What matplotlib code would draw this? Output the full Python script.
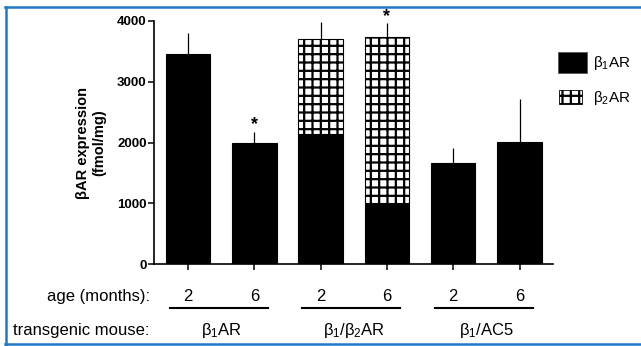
import matplotlib
matplotlib.use('Agg')
import matplotlib.pyplot as plt
from matplotlib.patches import Patch, Rectangle
from matplotlib.lines import Line2D
from matplotlib.legend_handler import HandlerPatch
import numpy as np

plt.rcParams['font.family'] = ['Liberation Sans', 'DejaVu Sans']
plt.rcParams['mathtext.default'] = 'regular'
plt.rcParams['hatch.linewidth'] = 1.6

# donnees
ages = ['2', '6', '2', '6', '2', '6']
groups = ['β$_1$AR', 'β$_1$/β$_2$AR', 'β$_1$/AC5']
b1 = [3448, 1987, 2140, 1002, 1658, 2003]
b2 = [0, 0, 1555, 2725, 0, 0]
err = [345, 190, 289, 233, 257, 716]
stars = [False, True, False, True, False, False]

x = np.arange(len(b1))
total = np.array(b1) + np.array(b2)

fig = plt.figure(figsize=(6.41, 3.46), dpi=100)
ax = fig.add_axes([0.2407, 0.2361, 0.6225, 0.7040])

ax.bar(x, b1, width=0.67, color='black', edgecolor='black', linewidth=0.8)
idx = [i for i in range(len(b2)) if b2[i] > 0]
ax.bar(x[idx], [b2[i] for i in idx], bottom=[b1[i] for i in idx], width=0.67,
       color='white', edgecolor='black', hatch='++', linewidth=0.8)
ax.errorbar(x, total, yerr=[np.zeros(len(err)), err], fmt='none', ecolor='black',
            elinewidth=0.9, capsize=0)
for i in range(len(x)):
    if stars[i]:
        ax.text(x[i], total[i] + err[i] - 30, '*', ha='center', va='bottom',
                fontsize=13, fontweight='bold', clip_on=False)

ax.set_xlim(-0.51, 5.51)
ax.set_ylim(0, 4000)
ax.set_yticks([0, 1000, 2000, 3000, 4000])
ax.set_yticklabels(['0', '1000', '2000', '3000', '4000'], fontweight='bold', fontsize=9.5)
ax.set_xticks(x, [''] * len(x))
ax.tick_params(axis='both', direction='out', length=4.5, width=1.1, pad=1)
for s in ['top', 'right']:
    ax.spines[s].set_visible(False)
for s in ['left', 'bottom']:
    ax.spines[s].set_linewidth(1.2)

ax.set_ylabel('βAR expression\n(fmol/mg)', fontweight='bold', fontsize=10.5, linespacing=1.15)
ax.yaxis.set_label_coords(-0.121, 0.5)

# textes sous l'axe
tr = ax.get_xaxis_transform()
for i in range(len(x)):
    ax.text(x[i], -0.1507, ages[i], ha='center', va='baseline', fontsize=12,
            transform=tr, clip_on=False)
for g in range(len(groups)):
    ax.plot([2 * g - 0.28, 2 * g + 1.2], [-0.1806, -0.1806], color='black', lw=1.5,
            transform=tr, clip_on=False)
    ax.text(2 * g + 0.5, -0.290, groups[g], ha='center', va='baseline', fontsize=12,
            transform=tr, clip_on=False)
ax.text(-0.0108, -0.1507, 'age (months):', ha='right', va='baseline', fontsize=12,
        transform=ax.transAxes, clip_on=False)
ax.text(-0.013, -0.290, 'transgenic mouse:', ha='right', va='baseline', fontsize=12,
        transform=ax.transAxes, clip_on=False)


# legende avec des carres de tailles differentes
def small_box(legend, orig_handle, xdescent, ydescent, width, height, fontsize):
    w = width * 0.78
    h = height * 0.65
    return Rectangle((-xdescent + 1, -ydescent + (height - h) / 2), w, h)


h1 = Patch(facecolor='black', edgecolor='#555555', linewidth=0.6)
h2 = Patch(facecolor='white', edgecolor='black', hatch='++', linewidth=0.6)
ax.legend([h1, h2], ['β$_1$AR', 'β$_2$AR'], loc='upper left',
          bbox_to_anchor=(0.870, 0.8506), bbox_transform=fig.transFigure,
          frameon=False, fontsize=11, handlelength=1.9, handleheight=1.8,
          handletextpad=0.4, labelspacing=0.85, borderpad=0, borderaxespad=0,
          handler_map={h2: HandlerPatch(patch_func=small_box)})

# cadre bleu
c = '#2178c4'
fig.add_artist(Line2D([5 / 641, 1], [1 - 6.5 / 346, 1 - 6.5 / 346], color=c, lw=1.8))
fig.add_artist(Line2D([6 / 641, 6 / 641], [1 - 6.5 / 346, 0], color=c, lw=1.8))
fig.add_artist(Line2D([5 / 641, 1], [2 / 346, 2 / 346], color=c, lw=1.8))

plt.savefig('out.png', dpi=100)
